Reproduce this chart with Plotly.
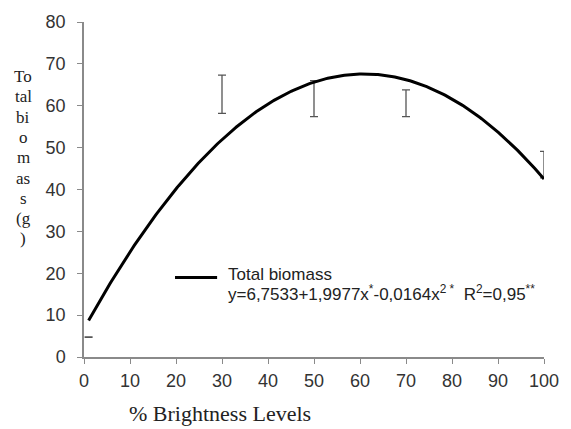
import numpy as np
import plotly.graph_objects as go

# Fitted quadratic: y = b0 + b1*x + b2*x^2
b0, b1, b2 = 6.7533, 1.9977, -0.0164
curve_x_start, curve_x_end = 1, 100

# Observed brightness levels with the ranges of the error bars
levels = [1, 30, 50, 70, 100]
range_low = [4.7, 58.2, 57.4, 57.4, 42.8]
range_high = [4.8, 67.3, 66.0, 63.8, 49.1]

x_ticks = [0, 10, 20, 30, 40, 50, 60, 70, 80, 90, 100]
y_ticks = [0, 10, 20, 30, 40, 50, 60, 70, 80]

# Vertical y-axis title, broken into short pieces
y_title_parts = ["To", "tal", "bi", "o", "m", "as", "s", "(g", ")"]
series_name = "Total biomass"
equation = "y=6,7533+1,9977x<sup>*</sup>-0,0164x<sup>2 *</sup>  R<sup>2</sup>=0,95<sup>**</sup>"

fx = np.linspace(curve_x_start, curve_x_end, 300)
fy = b0 + b1 * fx + b2 * fx ** 2

mid = [(lo + hi) / 2 for lo, hi in zip(range_low, range_high)]
up = [hi - m for hi, m in zip(range_high, mid)]
down = [m - lo for lo, m in zip(range_low, mid)]

W, H = 571, 429
ML, MR, MT, MB = 84, 17, 20, 72
PW, PH = W - ML - MR, H - MT - MB


def px_x(p):
    return (p - ML) / PW


def px_y(p):
    return (H - MB - p) / PH


fig = go.Figure()
fig.add_trace(go.Scatter(
    x=levels, y=mid, mode="markers",
    marker=dict(size=1, opacity=0),
    error_y=dict(type="data", symmetric=False, array=up, arrayminus=down,
                 color="#555555", thickness=1.3, width=4),
    showlegend=False, hoverinfo="skip",
))
fig.add_trace(go.Scatter(
    x=fx, y=fy, mode="lines", name=series_name,
    line=dict(color="black", width=3), showlegend=False,
))

axis_common = dict(
    showline=True, linecolor="#8a8a8a", linewidth=1.5,
    ticks="outside", ticklen=5, tickcolor="#8a8a8a", tickwidth=1.2,
    showgrid=False, zeroline=False,
    tickfont=dict(family="Liberation Sans, Arial, sans-serif", size=18, color="#333333"),
)

fig.update_xaxes(range=[0, 100], tickvals=x_ticks, ticklabelstandoff=2, **axis_common)
fig.update_yaxes(range=[0, 80], tickvals=y_ticks, ticklabelstandoff=8, **axis_common)

serif = "Liberation Serif, Times New Roman, serif"
sans = "Liberation Sans, Arial, sans-serif"

for i, part in enumerate(y_title_parts):
    fig.add_annotation(
        xref="paper", yref="paper", x=px_x(22), y=px_y(75 + i * 20.4),
        xanchor="center", yanchor="middle", text=part, showarrow=False,
        font=dict(family=serif, size=17, color="#222222"),
    )

fig.add_annotation(
    xref="paper", yref="paper", x=px_x(128), y=px_y(414), xanchor="left", yanchor="middle",
    text="% Brightness Levels", showarrow=False,
    font=dict(family=serif, size=22, color="#222222"),
)

# Legend entry: line sample, series name and the fitted equation
fig.add_shape(type="line", xref="paper", yref="paper",
              x0=px_x(177), x1=px_x(220), y0=px_y(277), y1=px_y(277),
              line=dict(color="black", width=3))
fig.add_annotation(
    xref="paper", yref="paper", x=px_x(229), y=px_y(274), xanchor="left", yanchor="middle",
    text=series_name, showarrow=False,
    font=dict(family=sans, size=17, color="#222222"),
)
fig.add_annotation(
    xref="paper", yref="paper", x=px_x(229), y=px_y(293), xanchor="left", yanchor="middle",
    text=equation, showarrow=False,
    font=dict(family=sans, size=17, color="#222222"),
)

fig.update_layout(
    width=W, height=H,
    margin=dict(l=ML, r=MR, t=MT, b=MB),
    paper_bgcolor="white", plot_bgcolor="white",
    showlegend=False,
)

fig.write_html("out.html")
